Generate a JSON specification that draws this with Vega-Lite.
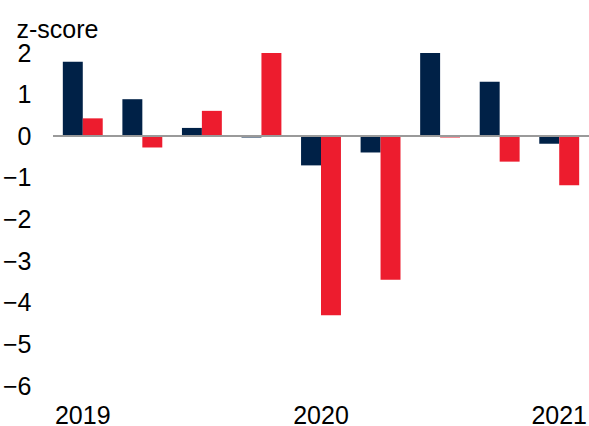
{
  "$schema": "https://vega.github.io/schema/vega-lite/v6.json",
  "autosize": "none",
  "width": 536,
  "height": 333,
  "padding": {"left": 53, "top": 53, "right": 0, "bottom": 40},
  "background": "white",
  "config": {
    "view": {"stroke": null},
    "font": "Liberation Sans",
    "axis": {"labelFont": "Liberation Sans", "titleFont": "Liberation Sans"}
  },
  "data": {
    "values": [
      {"period": "2019Q1", "series": "Series 1", "value": 1.79},
      {"period": "2019Q1", "series": "Series 2", "value": 0.43},
      {"period": "2019Q2", "series": "Series 1", "value": 0.89},
      {"period": "2019Q2", "series": "Series 2", "value": -0.27},
      {"period": "2019Q3", "series": "Series 1", "value": 0.2},
      {"period": "2019Q3", "series": "Series 2", "value": 0.61},
      {"period": "2019Q4", "series": "Series 1", "value": -0.03},
      {"period": "2019Q4", "series": "Series 2", "value": 2.0},
      {"period": "2020Q1", "series": "Series 1", "value": -0.7},
      {"period": "2020Q1", "series": "Series 2", "value": -4.3},
      {"period": "2020Q2", "series": "Series 1", "value": -0.39},
      {"period": "2020Q2", "series": "Series 2", "value": -3.45},
      {"period": "2020Q3", "series": "Series 1", "value": 2.0},
      {"period": "2020Q3", "series": "Series 2", "value": -0.03},
      {"period": "2020Q4", "series": "Series 1", "value": 1.31},
      {"period": "2020Q4", "series": "Series 2", "value": -0.61},
      {"period": "2021Q1", "series": "Series 1", "value": -0.18},
      {"period": "2021Q1", "series": "Series 2", "value": -1.18}
    ]
  },
  "layer": [
    {
      "mark": {"type": "bar"},
      "encoding": {
        "x": {
          "field": "period",
          "type": "nominal",
          "sort": null,
          "scale": {"paddingInner": 0.33, "paddingOuter": 0.165},
          "axis": {
            "title": null,
            "domain": false,
            "ticks": false,
            "tickSize": 0,
            "labelAngle": 0,
            "labelFontSize": 25,
            "labelColor": "black",
            "labelPadding": 17,
            "labelBaseline": "top",
            "labelOverlap": false,
            "labelExpr": "indexof(datum.label, 'Q1') > 0 ? substring(datum.label, 0, 4) : ''"
          }
        },
        "xOffset": {"field": "series", "type": "nominal", "scale": {"paddingInner": 0, "paddingOuter": 0}},
        "y": {
          "field": "value",
          "type": "quantitative",
          "scale": {"domain": [-6, 2], "nice": false, "zero": false},
          "axis": {
            "values": [-6, -5, -4, -3, -2, -1, 0, 1, 2],
            "grid": false,
            "domain": false,
            "ticks": false,
            "tickSize": 0,
            "labelFontSize": 25,
            "labelColor": "black",
            "labelPadding": 22,
            "title": "z-score",
            "titleAngle": 0,
            "titleAlign": "left",
            "titleBaseline": "alphabetic",
            "titleFontSize": 25,
            "titleFontWeight": "normal",
            "titleColor": "black",
            "titleX": -37,
            "titleY": -16
          }
        },
        "color": {
          "field": "series",
          "type": "nominal",
          "scale": {"domain": ["Series 1", "Series 2"], "range": ["#002147", "#ED1C2E"]},
          "legend": null
        }
      }
    },
    {
      "mark": {"type": "rule", "color": "#9a9a9a", "strokeWidth": 1},
      "encoding": {"y": {"datum": 0}}
    }
  ]
}
